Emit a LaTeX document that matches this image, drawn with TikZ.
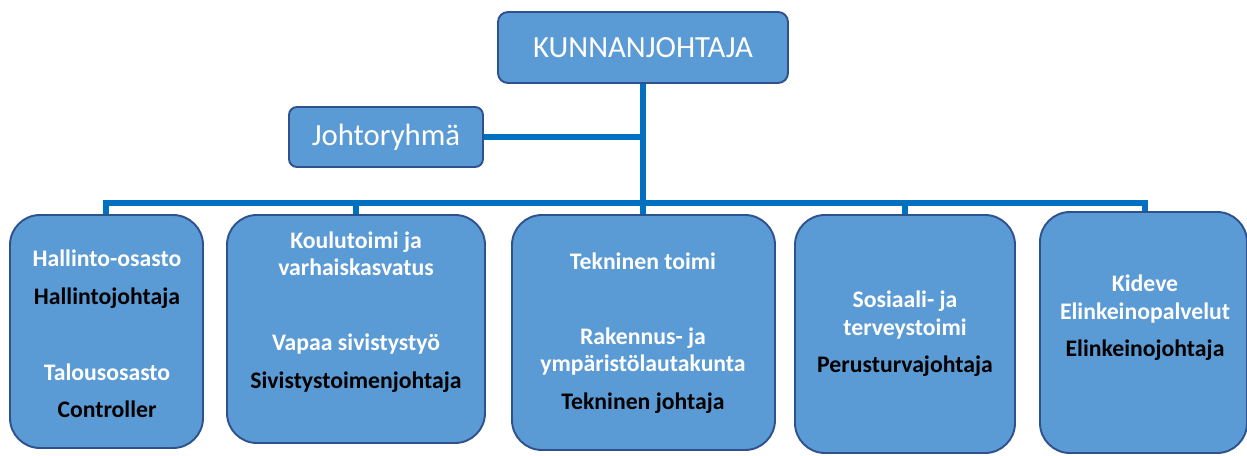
\documentclass[tikz,border=0pt]{standalone}
\usepackage{fontspec}
\setmainfont{Carlito}
\definecolor{boxfill}{HTML}{5B9BD5}
\definecolor{boxline}{HTML}{2F528F}
\definecolor{linkblue}{HTML}{0070C0}
\newcommand{\deptname}[1]{{\color{white}#1}}
\newcommand{\chiefname}[1]{{\color{black}#1}}
\begin{document}
\begin{tikzpicture}[
		x=0.2mm, y=-0.2mm,
		orgbox/.style={draw=boxline, line width=1.1pt, fill=boxfill, rounded corners=6mm},
		topbox/.style={draw=boxline, line width=1.1pt, fill=boxfill, rounded corners=2mm, text=white, font=\fontsize{17.5}{21}\selectfont},
		boxtext/.style={align=center, font=\bfseries\fontsize{13.5}{15.5}\selectfont},
		conn/.style={draw=linkblue, line width=3.5pt}
		]
		\useasboundingbox (0,0) rectangle (1247,455);
		% Top
		\node[topbox, minimum width=58mm, minimum height=14.2mm] (top) at (643,47.5) {KUNNANJOHTAJA};
		\node[topbox, minimum width=38.8mm, minimum height=12mm, rounded corners=1.6mm] (joht) at (386,137) {Johtoryhmä};
		\coordinate (bus) at (643,203);
		
		% Lines
		\draw[conn] (top.south) -- (top.south |- 0,214);
		\draw[conn] (joht.east) -- (joht.east -| top.south);
		\draw[conn] (106,214) |- (bus) -| (1145,211);
		\draw[conn] (356,214) -- (356,203);
		\draw[conn] (905,214) -- (905,203);
		
		% Boxes
		\node[orgbox, minimum width=38.6mm, minimum height=46.6mm] (b1) at (106.5,331.5) {};
		\node[orgbox, minimum width=51.6mm, minimum height=45.6mm] (b2) at (356,329) {};
		\node[orgbox, minimum width=52.6mm, minimum height=47mm] (b3) at (643.5,332.5) {};
		\node[orgbox, minimum width=44mm, minimum height=47.6mm] (b4) at (905,334) {};
		\node[orgbox, minimum width=41.4mm, minimum height=48.2mm] (b5) at (1143.5,332.5) {};
		
		% Texts
		\node[boxtext] (l1) at (107,334) {\deptname{Hallinto-osasto}\\[6pt]\chiefname{Hallintojohtaja}\\[27.5pt]\deptname{Talousosasto}\\[6pt]\chiefname{Controller}};
		\node[boxtext] (l2) at (356,312) {\deptname{Koulutoimi ja}\\\deptname{varhaiskasvatus}\\[27.5pt]\deptname{Vapaa sivistystyö}\\[6pt]\chiefname{Sivistystoimenjohtaja}};
		\node[boxtext] (l3) at (643,333) {\deptname{Tekninen toimi}\\[27.5pt]\deptname{Rakennus- ja}\\\deptname{ympäristölautakunta}\\[6pt]\chiefname{Tekninen johtaja}};
		\node[boxtext] (l4) at (905,334) {\deptname{Sosiaali- ja}\\\deptname{terveystoimi}\\[6pt]\chiefname{Perusturvajohtaja}};
		\node[boxtext] (l5) at (1145,318) {\deptname{Kideve}\\\deptname{Elinkeinopalvelut}\\[6pt]\chiefname{Elinkeinojohtaja}};
	\end{tikzpicture}
\end{document}
